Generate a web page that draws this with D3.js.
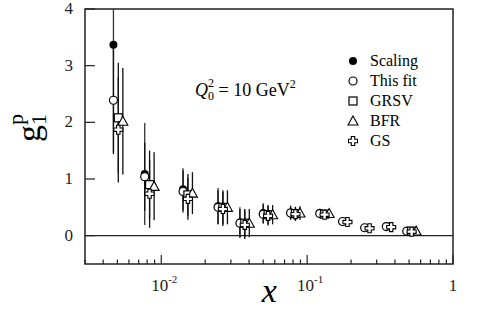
<!DOCTYPE html>
<html>
<head>
<meta charset="utf-8">
<script src="https://cdn.jsdelivr.net/npm/d3@7"></script>
<style>
  body { margin: 0; background: #fff; }
</style>
</head>
<body>
<div id="graph"></div>
<script>
// x bins
var xBins = [0.0047, 0.0077, 0.0141, 0.0245, 0.0346, 0.050, 0.077, 0.122, 0.175, 0.248, 0.349, 0.482];

// g1p values for each set
var scalingVals = [3.37, 1.09, 0.82, 0.52, 0.23, 0.40, 0.41, 0.40, 0.25, 0.14, 0.16, 0.08];
var scalingErrs = [1.90, 0.90, 0.37, 0.32, 0.27, 0.17, 0.12, 0.08, 0.05, 0.04, 0.04, 0.04];
var thisFitVals = [2.39, 1.04, 0.78, 0.50, 0.22, 0.38, 0.40, 0.39, 0.25, 0.14, 0.16, 0.08];
var thisFitErrs = [0.95, 0.60, 0.37, 0.30, 0.25, 0.17, 0.12, 0.08, 0.05, 0.04, 0.04, 0.04];
var grsvVals = [2.08, 0.90, 0.72, 0.50, 0.22, 0.37, 0.39, 0.38, null, null, null, 0.08];
var grsvErrs = [0.97, 0.60, 0.37, 0.30, 0.25, 0.17, 0.12, 0.08, null, null, null, 0.04];
var bfrVals = [2.02, 0.87, 0.75, 0.50, 0.22, 0.37, 0.40, 0.39, null, null, null, 0.08];
var bfrErrs = [0.94, 0.60, 0.37, 0.30, 0.25, 0.17, 0.12, 0.08, null, null, null, 0.04];
var gsVals = [1.87, 0.74, 0.65, 0.47, 0.19, 0.35, 0.38, 0.37, 0.24, 0.13, 0.15, 0.07];
var gsErrs = [0.93, 0.60, 0.37, 0.30, 0.25, 0.17, 0.12, 0.08, 0.05, 0.04, 0.04, 0.04];

var seriesNames = ["Scaling", "This fit", "GRSV", "BFR", "GS"];
var seriesShift = [1.0, 1.0, 1.08, 1.16, 1.08];   // small x displacement so the sets don't overlap

var yTicks = [0, 1, 2, 3, 4];
var xMajor = [0.01, 0.1, 1];

var FONT = "'Liberation Serif', 'Times New Roman', Times, 'DejaVu Serif', serif";

var width = 477, height = 313;
var margin = { left: 85, right: 24, top: 9, bottom: 49 };
var plotW = width - margin.left - margin.right;
var plotH = height - margin.top - margin.bottom;

var svg = d3.select("#graph").append("svg")
    .attr("width", width)
    .attr("height", height)
    .attr("font-family", FONT);

var g = svg.append("g")
    .attr("transform", "translate(" + margin.left + "," + margin.top + ")");

var xScale = d3.scaleLog().domain([0.003, 1]).range([0, plotW]);
var yScale = d3.scaleLinear().domain([-0.5, 4]).range([plotH, 0]);

g.append("clipPath").attr("id", "clip")
  .append("rect").attr("width", plotW).attr("height", plotH);

// zero line
g.append("line")
  .attr("x1", 0).attr("x2", plotW)
  .attr("y1", yScale(0)).attr("y2", yScale(0))
  .attr("stroke", "#222").attr("stroke-width", 1.2);

// y ticks (inward)
g.selectAll(".ytick").data(yTicks).enter().append("line")
  .attr("x1", 0).attr("x2", 10)
  .attr("y1", function(d) { return yScale(d); })
  .attr("y2", function(d) { return yScale(d); })
  .attr("stroke", "#222").attr("stroke-width", 1.2);

g.selectAll(".ylab").data(yTicks).enter().append("text")
  .attr("x", -12)
  .attr("y", function(d) { return yScale(d) + 5; })
  .attr("text-anchor", "end")
  .attr("font-size", 17)
  .attr("fill", "#222")
  .text(function(d) { return d; });

// x ticks (inward, log minor ticks)
var xTickVals = [];
[0.001, 0.01, 0.1].forEach(function(dec) {
    for (var m = 1; m <= 9; m++) {
        var v = dec * m;
        if (v >= 0.003 && v <= 1) xTickVals.push(v);
    }
});
xTickVals.push(1);

g.selectAll(".xtick").data(xTickVals).enter().append("line")
  .attr("x1", function(d) { return xScale(d); })
  .attr("x2", function(d) { return xScale(d); })
  .attr("y1", plotH)
  .attr("y2", function(d) {
      var major = xMajor.some(function(m) { return Math.abs(m - d) < 1e-9; });
      return plotH - (major ? 9 : 4.5);
  })
  .attr("stroke", "#222").attr("stroke-width", 1.2);

var xLabels = [{ v: 0.01, base: "10", exp: "-2" }, { v: 0.1, base: "10", exp: "-1" }, { v: 1, base: "1", exp: "" }];
xLabels.forEach(function(l) {
    var t = g.append("text")
      .attr("x", xScale(l.v) + (l.exp ? 3 : 0))
      .attr("y", plotH + 27)
      .attr("text-anchor", "middle")
      .attr("font-size", 17)
      .attr("fill", "#222");
    t.append("tspan").text(l.base);
    if (l.exp) t.append("tspan").attr("dy", -8).attr("font-size", 11).text(l.exp);
});

// frame
g.append("rect")
  .attr("width", plotW).attr("height", plotH)
  .attr("fill", "none").attr("stroke", "#222").attr("stroke-width", 1.5);

// axis titles
g.append("text")
  .attr("x", xScale(0.055))
  .attr("y", plotH + 38)
  .attr("text-anchor", "middle")
  .attr("font-size", 34)
  .attr("font-style", "italic")
  .text("x");

var yt = svg.append("text")
  .attr("transform", "translate(40,142) rotate(-90)")
  .attr("font-size", 34);
yt.append("tspan").text("g");
yt.append("tspan").attr("font-size", 22).attr("dy", 6).text("1");
yt.append("tspan").attr("font-size", 22).attr("dx", -11).attr("dy", -23).text("p");

// Q0^2 label
var q = g.append("text")
  .attr("x", 110).attr("y", 87)
  .attr("font-size", 18);
q.append("tspan").attr("font-style", "italic").text("Q");
q.append("tspan").attr("font-size", 12).attr("dy", 4).text("0");
q.append("tspan").attr("font-size", 12).attr("dx", -6).attr("dy", -13).text("2");
q.append("tspan").attr("dy", 9).text(" = 10 GeV");
q.append("tspan").attr("font-size", 12).attr("dy", -8).text("2");

// markers
function drawMarker(sel, type, cx, cy) {
    if (type === 0) {
        sel.append("circle").attr("cx", cx).attr("cy", cy).attr("r", 4)
           .attr("fill", "#000");
    } else if (type === 1) {
        sel.append("circle").attr("cx", cx).attr("cy", cy).attr("r", 4)
           .attr("fill", "#fff").attr("stroke", "#000").attr("stroke-width", 1.2);
    } else if (type === 2) {
        sel.append("rect").attr("x", cx - 4).attr("y", cy - 4).attr("width", 8).attr("height", 8)
           .attr("fill", "#fff").attr("stroke", "#000").attr("stroke-width", 1.2);
    } else if (type === 3) {
        sel.append("path")
           .attr("d", "M" + cx + "," + (cy - 5) + "L" + (cx + 5) + "," + (cy + 4) + "L" + (cx - 5) + "," + (cy + 4) + "Z")
           .attr("fill", "#fff").attr("stroke", "#000").attr("stroke-width", 1.1);
    } else {
        var a = 1.7, b = 4.5;
        var pts = [[-a,-b],[a,-b],[a,-a],[b,-a],[b,a],[a,a],[a,b],[-a,b],[-a,a],[-b,a],[-b,-a],[-a,-a]];
        sel.append("path")
           .attr("d", "M" + pts.map(function(p) { return (cx + p[0]) + "," + (cy + p[1]); }).join("L") + "Z")
           .attr("fill", "#fff").attr("stroke", "#000").attr("stroke-width", 1.1);
    }
}

var allVals = [scalingVals, thisFitVals, grsvVals, bfrVals, gsVals];
var allErrs = [scalingErrs, thisFitErrs, grsvErrs, bfrErrs, gsErrs];

var dataLayer = g.append("g").attr("clip-path", "url(#clip)");

// error bars first
allVals.forEach(function(vals, s) {
    var pts = xBins.map(function(x, i) { return { x: x * seriesShift[s], y: vals[i], e: allErrs[s][i] }; })
                   .filter(function(p) { return p.y !== null; });
    dataLayer.selectAll(".err" + s).data(pts).enter().append("line")
      .attr("x1", function(p) { return xScale(p.x); })
      .attr("x2", function(p) { return xScale(p.x); })
      .attr("y1", function(p) { return yScale(p.y - p.e); })
      .attr("y2", function(p) { return yScale(p.y + p.e); })
      .attr("stroke", s === 0 ? "#333" : "#111")
      .attr("stroke-width", 1.3);
});

allVals.forEach(function(vals, s) {
    xBins.forEach(function(x, i) {
        if (vals[i] === null) return;
        drawMarker(dataLayer, s, xScale(x * seriesShift[s]), yScale(vals[i]));
    });
});

// legend
var legend = svg.append("g");
seriesNames.forEach(function(name, s) {
    var ly = 61 + s * 20;
    drawMarker(legend, s, 353, ly);
    legend.append("text")
      .attr("x", 370).attr("y", ly + 5)
      .attr("font-size", 16)
      .text(name);
});
</script>
</body>
</html>
